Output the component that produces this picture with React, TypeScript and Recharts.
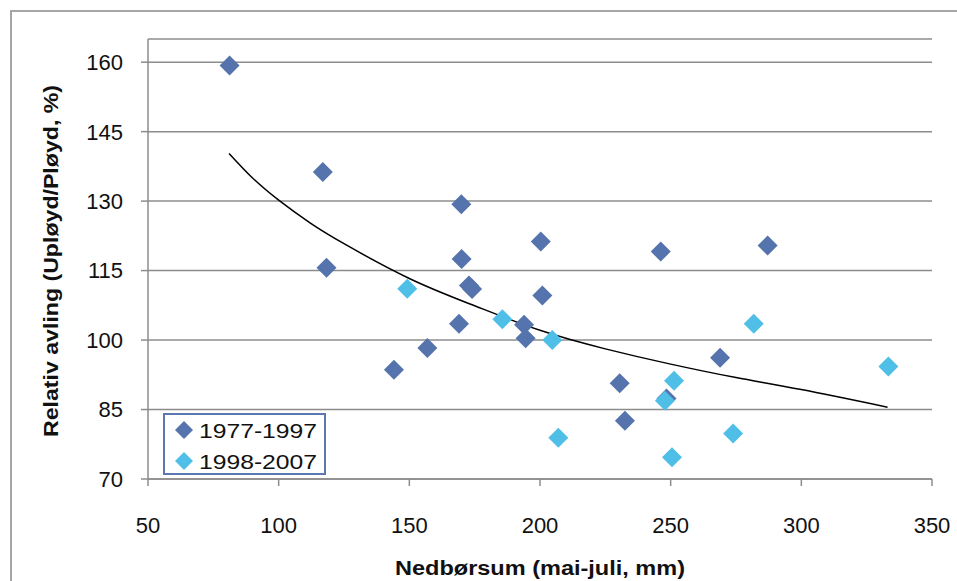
import { ComposedChart, Scatter, Line, XAxis, YAxis, CartesianGrid, Label } from "recharts";

// 1977-1997
const early = [
  { x: 81.2, y: 159.3 },
  { x: 116.9, y: 136.3 },
  { x: 118.3, y: 115.6 },
  { x: 169.9, y: 129.3 },
  { x: 170.0, y: 117.5 },
  { x: 172.8, y: 111.8 },
  { x: 174.0, y: 111.0 },
  { x: 169.0, y: 103.5 },
  { x: 156.9, y: 98.3 },
  { x: 144.1, y: 93.6 },
  { x: 193.9, y: 103.3 },
  { x: 194.5, y: 100.4 },
  { x: 200.3, y: 121.3 },
  { x: 200.9, y: 109.6 },
  { x: 246.2, y: 119.1 },
  { x: 287.1, y: 120.4 },
  { x: 268.9, y: 96.2 },
  { x: 230.5, y: 90.7 },
  { x: 232.5, y: 82.6 },
  { x: 248.4, y: 87.4 },
];

// 1998-2007
const late = [
  { x: 149.2, y: 111.1 },
  { x: 185.6, y: 104.5 },
  { x: 204.7, y: 100.0 },
  { x: 207.0, y: 78.9 },
  { x: 247.8, y: 86.9 },
  { x: 251.3, y: 91.2 },
  { x: 250.5, y: 74.7 },
  { x: 273.9, y: 79.8 },
  { x: 281.8, y: 103.5 },
  { x: 333.3, y: 94.3 },
];

// trend curve, points
const trend = [
  { x: 81, y: 140.3 },
  { x: 90, y: 135.0 },
  { x: 100, y: 130.2 },
  { x: 112, y: 125.3 },
  { x: 125, y: 120.8 },
  { x: 150, y: 113.3 },
  { x: 175, y: 107.4 },
  { x: 200, y: 102.1 },
  { x: 225, y: 98.1 },
  { x: 250, y: 94.8 },
  { x: 275, y: 91.9 },
  { x: 300, y: 89.3 },
  { x: 333, y: 85.5 },
];

const xTicks = [50, 100, 150, 200, 250, 300, 350];
const yTicks = [70, 85, 100, 115, 130, 145, 160];

const dark = "#5573AC";
const light = "#50BFE8";
const grid = "#8C8C8C";
const font = "'Liberation Sans', Arial, sans-serif";

const Diamond = (color: string) => (props: any) => {
  const { cx, cy } = props;
  if (cx == null || cy == null) return null;
  const r = 10;
  return <polygon points={`${cx},${cy - r} ${cx + r},${cy} ${cx},${cy + r} ${cx - r},${cy}`} fill={color} />;
};

const YTick = (props: any) => (
  <text x={123} y={props.y} dy="0.36em" textAnchor="end" fontSize={22} fontFamily={font} fill="#111">
    {props.payload.value}
  </text>
);

const XTick = (props: any) => (
  <text x={props.x} y={525} dy="0.36em" textAnchor="middle" fontSize={22} fontFamily={font} fill="#111">
    {props.payload.value}
  </text>
);

const legendItems = [
  { label: "1977-1997", color: dark, y: 17 },
  { label: "1998-2007", color: light, y: 48 },
];

const LegendBox = () => (
  <svg width={163} height={62} style={{ position: "absolute", left: 163, top: 413 }}>
    <rect x={1} y={1} width={161} height={60} fill="#fff" stroke="#5B78B0" strokeWidth={2} />
    {legendItems.map((e) => (
      <g key={e.label}>
        <polygon points={`21,${e.y - 9} 30,${e.y} 21,${e.y + 9} 12,${e.y}`} fill={e.color} />
        <text x={36} y={e.y} dy="0.36em" fontSize={21} fontFamily={font} fill="#111" textLength={118} lengthAdjust="spacingAndGlyphs">
          {e.label}
        </text>
      </g>
    ))}
  </svg>
);

export default function App() {
  return (
    <div style={{ position: "absolute", left: 0, top: 0, width: 957, height: 581, overflow: "hidden", background: "#fff" }}>
      <div style={{ position: "absolute", left: 10, top: 10, width: 1000, height: 700, borderLeft: "2px solid #A6A6A6", borderTop: "2px solid #A6A6A6" }} />
      <ComposedChart width={957} height={581} margin={{ top: 39, right: 25, bottom: 0, left: 0 }} style={{ position: "absolute", left: 0, top: 0 }}>
        <CartesianGrid vertical={false} stroke={grid} strokeWidth={1.5} />
        <XAxis
          type="number"
          dataKey="x"
          domain={[50, 350]}
          ticks={xTicks}
          height={102}
          stroke={grid}
          strokeWidth={1.5}
          tickSize={7}
          tick={XTick}
          interval={0}
        >
          <Label
            content={() => (
              <text x={540} y={568} dy="0.36em" textAnchor="middle" fontSize={20} fontWeight="bold" fontFamily={font} fill="#111" textLength={290} lengthAdjust="spacingAndGlyphs">
                Nedbørsum (mai-juli,  mm)
              </text>
            )}
          />
        </XAxis>
        <YAxis
          type="number"
          dataKey="y"
          domain={[70, 165]}
          ticks={yTicks}
          width={148}
          stroke={grid}
          strokeWidth={1.5}
          tickSize={7}
          tick={YTick}
          interval={0}
        >
          <Label
            content={() => (
              <text x={51} y={261} dy="0.36em" textAnchor="middle" transform="rotate(-90 51 261)" fontSize={20} fontWeight="bold" fontFamily={font} fill="#111" textLength={352} lengthAdjust="spacingAndGlyphs">
                Relativ avling  (Upløyd/Pløyd,  %)
              </text>
            )}
          />
        </YAxis>
        <Line data={trend} dataKey="y" type="natural" stroke="#000" strokeWidth={1.5} dot={false} isAnimationActive={false} legendType="none" />
        <Scatter name="1977-1997" data={early} dataKey="y" fill={dark} shape={Diamond(dark)} isAnimationActive={false} />
        <Scatter name="1998-2007" data={late} dataKey="y" fill={light} shape={Diamond(light)} isAnimationActive={false} />
      </ComposedChart>
      <LegendBox />
    </div>
  );
}
